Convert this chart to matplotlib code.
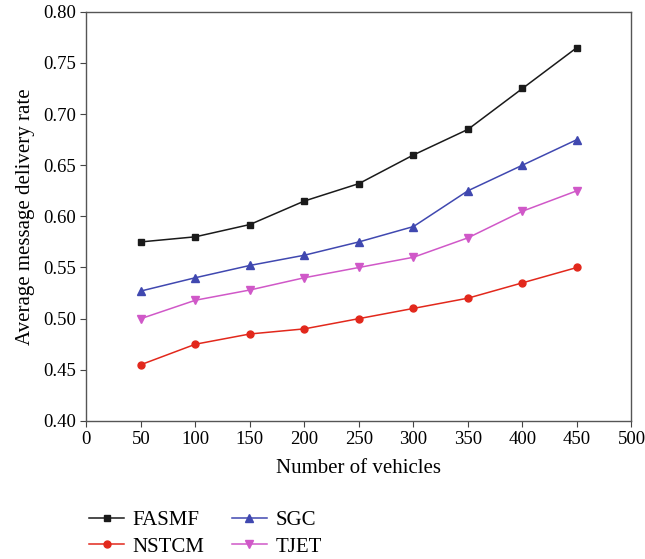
import matplotlib.pyplot as plt

plt.rcParams['font.family'] = ['Liberation Serif', 'DejaVu Serif']

vehicles = [50, 100, 150, 200, 250, 300, 350, 400, 450]
fasmf = [0.575, 0.580, 0.592, 0.615, 0.632, 0.660, 0.685, 0.725, 0.765]
nstcm = [0.455, 0.475, 0.485, 0.490, 0.500, 0.510, 0.520, 0.535, 0.550]
sgc = [0.527, 0.540, 0.552, 0.562, 0.575, 0.590, 0.625, 0.650, 0.675]
tjet = [0.500, 0.518, 0.528, 0.540, 0.550, 0.560, 0.579, 0.605, 0.625]

fig = plt.figure(figsize=(6.45, 5.59), dpi=100)
ax = fig.add_axes([0.134, 0.247, 0.845, 0.732])

ax.plot(vehicles, fasmf, color='#1a1a1a', marker='s', ms=5, lw=1.1, label='FASMF')
ax.plot(vehicles, nstcm, color='#e2281c', marker='o', ms=5, lw=1.1, label='NSTCM')
ax.plot(vehicles, sgc, color='#4048b0', marker='^', ms=6, lw=1.1, label='SGC')
ax.plot(vehicles, tjet, color='#d058c8', marker='v', ms=6, lw=1.1, label='TJET')

ax.set_xlim(0, 500)
ax.set_ylim(0.40, 0.80)
ax.set_xticks(range(0, 501, 50))
ax.set_yticks([0.40, 0.45, 0.50, 0.55, 0.60, 0.65, 0.70, 0.75, 0.80])
ax.yaxis.set_major_formatter(plt.FormatStrFormatter('%.2f'))
ax.tick_params(labelsize=13.5, length=4, width=0.8, color='#444444')
for s in ax.spines.values():
    s.set_color('#555555')
    s.set_linewidth(1.0)

ax.set_xlabel('Number of vehicles', fontsize=15, labelpad=8)
ax.set_ylabel('Average message delivery rate', fontsize=15, labelpad=6)

fig.legend(loc='upper left', bbox_to_anchor=(0.125, 0.102), ncol=2, frameon=False,
           fontsize=15, handlelength=1.7, handletextpad=0.4, columnspacing=1.3,
           labelspacing=0.35, borderaxespad=0)

fig.savefig('out.png')
